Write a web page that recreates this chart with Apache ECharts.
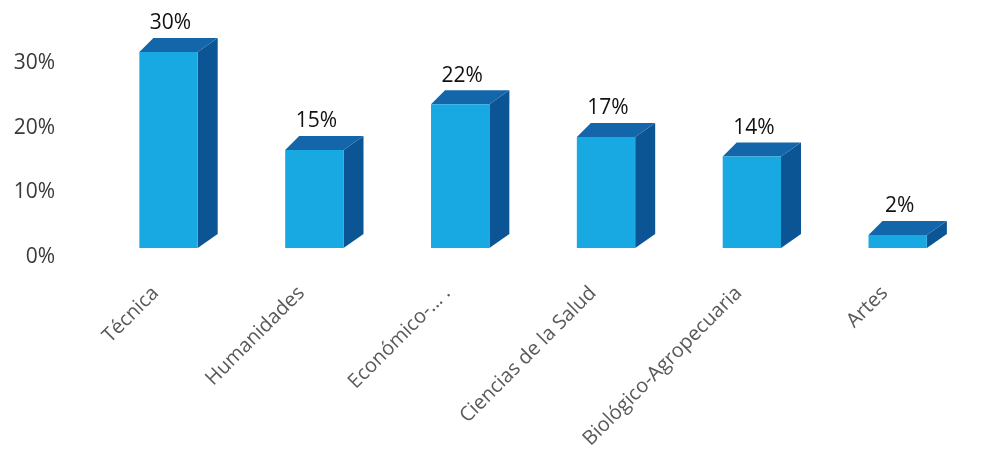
<!DOCTYPE html>
<html>
<head>
<meta charset="utf-8">
<script src="https://cdn.jsdelivr.net/npm/echarts@6/dist/echarts.min.js"></script>
<style>
  html, body { margin: 0; padding: 0; background: #ffffff; }
  #chart { width: 999px; height: 471px; }
</style>
</head>
<body>
<div id="chart"></div>
<script>
// Distribución por área de conocimiento
const categories = ['Técnica', 'Humanidades', 'Económico-... .', 'Ciencias de la Salud', 'Biológico-Agropecuaria', 'Artes'];
const shares = [30, 15, 22, 17, 14, 2];
const yTicks = [0, 10, 20, 30];

// box colours: front, top and side faces
const FRONT = '#19A9E2';
const TOP = '#1466AA';
const SIDE = '#0C5595';
// extrusion of the boxes (pixels)
const DEPTH_L = 14, DEPTH_R = 20, RISE = 14;
const FONT = '"Open Sans", "Noto Sans", sans-serif';

function renderBox(params, api) {
  const i = api.value(0);
  const v = api.value(1);
  const top = api.coord([i, v]);
  const base = api.coord([i, 0]);
  const w = api.size([1, 0])[0] * 0.4;
  const x0 = top[0] - w / 2, x1 = top[0] + w / 2;
  const yT = top[1], yB = base[1];
  return {
    type: 'group',
    children: [
      { type: 'polygon', shape: { points: [[x1, yT], [x1 + DEPTH_R, yT - RISE], [x1 + DEPTH_R, yB - RISE], [x1, yB]] }, style: { fill: SIDE } },
      { type: 'polygon', shape: { points: [[x0, yT], [x1, yT], [x1 + DEPTH_R, yT - RISE], [x0 + DEPTH_L, yT - RISE]] }, style: { fill: TOP } },
      { type: 'rect', shape: { x: x0, y: yT, width: w, height: yB - yT }, style: { fill: FRONT } },
      { type: 'text', x: top[0] + 2, y: yT - RISE - 4,
        style: { text: v + '%', align: 'center', verticalAlign: 'bottom', fill: '#111111', font: '21px ' + FONT } }
    ]
  };
}

const chart = echarts.init(document.getElementById('chart'), null, { renderer: 'canvas' });
chart.setOption({
  animation: false,
  backgroundColor: '#ffffff',
  grid: [
    // axis labels (floor / wall)
    { left: 82.6, right: 41.4, top: 63, bottom: 214 },
    // extruded boxes
    { left: 95.6, right: 28.4, top: 52, bottom: 223 }
  ],
  xAxis: [
    {
      gridIndex: 0, type: 'category', data: categories,
      axisLine: { show: false }, axisTick: { show: false }, splitLine: { show: false },
      axisLabel: { interval: 0, rotate: 45, margin: 33, fontSize: 20, color: '#595959', fontFamily: FONT }
    },
    { gridIndex: 1, type: 'category', data: categories, show: false }
  ],
  yAxis: [
    {
      gridIndex: 0, type: 'value', min: yTicks[0], max: yTicks[yTicks.length - 1], interval: yTicks[1] - yTicks[0],
      axisLine: { show: false }, axisTick: { show: false }, splitLine: { show: false },
      axisLabel: { margin: 27.6, fontSize: 21, color: '#3a3a3a', fontFamily: FONT, formatter: '{value}%' }
    },
    { gridIndex: 1, type: 'value', min: 0, max: 30, show: false }
  ],
  series: [
    {
      type: 'custom',
      xAxisIndex: 1,
      yAxisIndex: 1,
      renderItem: renderBox,
      encode: { x: 0, y: 1 },
      data: shares.map((v, i) => [i, v]),
      clip: false
    }
  ]
});
</script>
</body>
</html>
